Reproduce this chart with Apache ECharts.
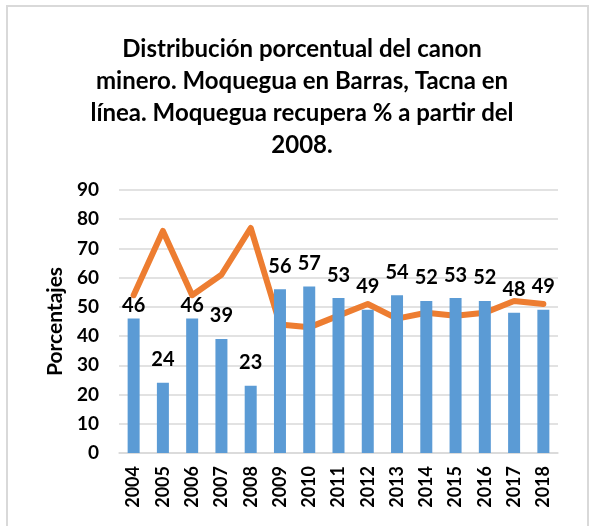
<!DOCTYPE html>
<html>
<head>
<meta charset="utf-8">
<script src="https://cdn.jsdelivr.net/npm/echarts@6/dist/echarts.min.js"></script>
<style>
  html, body { margin: 0; padding: 0; background: #fff; }
  #chart { width: 591px; height: 526px; }
</style>
</head>
<body>
<div id="chart"></div>
<script>
var years = ['2004', '2005', '2006', '2007', '2008', '2009', '2010', '2011', '2012', '2013', '2014', '2015', '2016', '2017', '2018'];
// Moquegua en barras
var moquegua = [46, 24, 46, 39, 23, 56, 57, 53, 49, 54, 52, 53, 52, 48, 49];
// Tacna en línea
var tacna = [54, 76, 54, 61, 77, 44, 43, 47, 51, 46, 48, 47, 48, 52, 51];
var yTicks = [0, 10, 20, 30, 40, 50, 60, 70, 80, 90];

var fuente = 'Lato, "Open Sans", sans-serif';

// etiquetas de 2004 y 2006 quedan más pegadas a la barra
var barData = moquegua.map(function (v, i) {
  if (i == 0 || i == 2) return { value: v, label: { distance: 3 } };
  return v;
});

var myChart = echarts.init(document.getElementById('chart'));
var option = {
  animation: false,
  title: {
    text: 'Distribución porcentual del canon\nminero. Moquegua en Barras, Tacna en\nlínea. Moquegua recupera % a partir del\n2008.',
    left: 297,
    top: 28,
    textAlign: 'center',
    textStyle: {
      fontFamily: fuente,
      fontSize: 24,
      fontWeight: 'bold',
      color: '#000',
      lineHeight: 32
    }
  },
  graphic: [{
    type: 'rect',
    shape: { x: 7, y: 6, width: 581, height: 540 },
    style: { fill: 'none', stroke: '#d9d9d9', lineWidth: 2 },
    silent: true
  }],
  grid: { left: 119, right: 33, top: 190, bottom: 73 },
  xAxis: {
    type: 'category',
    data: years,
    axisTick: { show: false },
    axisLine: { lineStyle: { color: '#d9d9d9', width: 1.5 } },
    axisLabel: {
      rotate: 90,
      fontFamily: fuente,
      fontSize: 18,
      fontWeight: 'bold',
      color: '#000',
      margin: 13
    }
  },
  yAxis: {
    type: 'value',
    min: yTicks[0],
    max: yTicks[yTicks.length - 1],
    interval: 10,
    name: 'Porcentajes',
    nameLocation: 'middle',
    nameGap: 53,
    nameTextStyle: {
      fontFamily: fuente,
      fontSize: 21,
      fontWeight: 'bold',
      color: '#000'
    },
    axisLine: { show: false },
    axisTick: { show: false },
    splitLine: { lineStyle: { color: '#d9d9d9', width: 1.5 } },
    axisLabel: {
      fontFamily: fuente,
      fontSize: 19,
      fontWeight: 'bold',
      color: '#000',
      margin: 20
    }
  },
  series: [
    {
      name: 'Moquegua',
      type: 'bar',
      data: barData,
      barWidth: 12,
      itemStyle: { color: '#5b9bd5' },
      label: {
        show: true,
        position: 'top',
        distance: 13,
        fontFamily: fuente,
        fontSize: 20,
        fontWeight: 'bold',
        color: '#000'
      }
    },
    {
      name: 'Tacna',
      type: 'line',
      data: tacna,
      symbol: 'none',
      z: 1,
      lineStyle: { color: '#ed7d31', width: 6, cap: 'round', join: 'round' }
    }
  ]
};
myChart.setOption(option);
</script>
</body>
</html>
